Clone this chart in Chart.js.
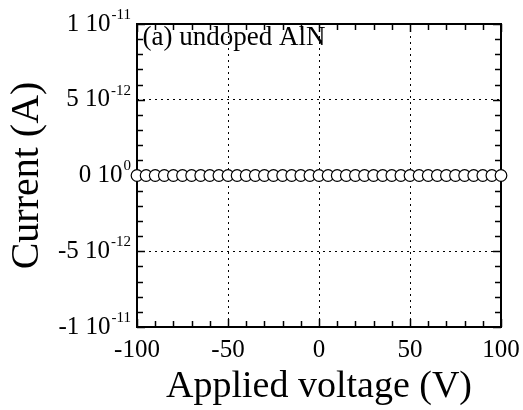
<!DOCTYPE html>
<html>
<head>
<meta charset="utf-8">
<script src="https://cdn.jsdelivr.net/npm/chart.js@4.4.0/dist/chart.umd.min.js"></script>
<style>
html, body { margin: 0; padding: 0; background: #fff; }
</style>
</head>
<body>
<canvas id="chart" width="523" height="410"></canvas>
<script>
// meetwaarden
var voltage = [-100, -95, -90, -85, -80, -75, -70, -65, -60, -55, -50, -45, -40, -35, -30, -25, -20, -15, -10, -5,
    0, 5, 10, 15, 20, 25, 30, 35, 40, 45, 50, 55, 60, 65, 70, 75, 80, 85, 90, 95, 100];
var current = [0, 0, 0, 0, 0, 0, 0, 0, 0, 0, 0, 0, 0, 0, 0, 0, 0, 0, 0, 0,
    0, 0, 0, 0, 0, 0, 0, 0, 0, 0, 0, 0, 0, 0, 0, 0, 0, 0, 0, 0, 0];

// as labels
var xTickValues = [-100, -50, 0, 50, 100];
var yTickValues = [1e-11, 5e-12, 0, -5e-12, -1e-11];
var yTickMain = ["1 10", "5 10", "0 10", "-5 10", "-1 10"];
var yTickExp = ["-11", "-12", "0", "-12", "-11"];
var label = "(a) undoped AlN";

var serif = "'Liberation Serif', 'Times New Roman', serif";

function line(ctx, x1, y1, x2, y2) {
    ctx.beginPath();
    ctx.moveTo(x1, y1);
    ctx.lineTo(x2, y2);
    ctx.stroke();
}

// kader, streepjes en labels
var frame = {
    id: "frame",
    beforeDatasetsDraw: function (chart) {
        var ctx = chart.ctx;
        var a = chart.chartArea;
        var xs = chart.scales.x;
        var ys = chart.scales.y;
        ctx.save();
        ctx.strokeStyle = "#000";
        ctx.lineWidth = 1.5;
        xs.ticks.forEach(function (t) {
            var px = Math.round(xs.getPixelForValue(t.value)) + 0.5;
            var len = t.value % 50 == 0 ? 8 : 6;
            line(ctx, px, a.bottom, px, a.bottom - len);
            line(ctx, px, a.top, px, a.top + len);
        });
        ys.ticks.forEach(function (t) {
            var py = Math.round(ys.getPixelForValue(t.value)) + 0.5;
            var len = Math.round(t.value * 1e12) % 5 == 0 ? 8 : 6;
            line(ctx, a.left, py, a.left + len, py);
            line(ctx, a.right, py, a.right - len, py);
        });
        ctx.lineWidth = 2;
        ctx.strokeRect(a.left, a.top, a.right - a.left, a.bottom - a.top);

        ctx.fillStyle = "#000";
        ctx.textBaseline = "middle";
        ctx.textAlign = "center";
        ctx.font = "25px " + serif;
        xTickValues.forEach(function (v) {
            ctx.fillText(String(v), xs.getPixelForValue(v), a.bottom + 23);
        });
        ctx.textAlign = "left";
        yTickValues.forEach(function (v, i) {
            var py = ys.getPixelForValue(v);
            ctx.font = "25px " + serif;
            var wm = ctx.measureText(yTickMain[i]).width;
            ctx.font = "15px " + serif;
            var we = ctx.measureText(yTickExp[i]).width;
            var x0 = a.left - 7 - wm - we;
            ctx.font = "25px " + serif;
            ctx.fillText(yTickMain[i], x0, py);
            ctx.font = "15px " + serif;
            ctx.fillText(yTickExp[i], x0 + wm + 1, py - 9);
        });
        ctx.font = "27px " + serif;
        ctx.fillText(label, xs.getPixelForValue(-97), ys.getPixelForValue(9.1e-12));
        ctx.restore();
    }
};

var ctx = document.getElementById("chart").getContext("2d");
var chart = new Chart(ctx, {
    type: "scatter",
    data: {
        datasets: [
            {
                label: "undoped AlN",
                data: voltage.map(function (v, i) { return { x: v, y: current[i] }; }),
                pointRadius: 5.8,
                pointBorderWidth: 1.2,
                pointBorderColor: "#000",
                pointBackgroundColor: "#fff",
                showLine: false,
                clip: false,
            },
        ],
    },
    options: {
        responsive: false,
        animation: false,
        layout: { padding: { top: 24, right: 22, left: 0, bottom: 0 } },
        plugins: { legend: { display: false }, tooltip: { enabled: false } },
        scales: {
            x: {
                type: "linear",
                min: -100,
                max: 100,
                ticks: { display: false, stepSize: 10, autoSkip: false },
                grid: {
                    drawTicks: false,
                    tickLength: 0,
                    lineWidth: 1,
                    color: function (c) {
                        var v = c.tick ? c.tick.value : 0;
                        return (Math.abs(v) < 100 && v % 50 == 0) ? "#000" : "rgba(0,0,0,0)";
                    },
                },
                border: { display: false, dash: [2, 4] },
                title: {
                    display: true,
                    text: "Applied voltage (V)",
                    color: "#000",
                    font: { family: serif, size: 38 },
                    padding: { top: 0, bottom: 0 },
                },
                afterFit: function (s) { s.height = 83; },
            },
            y: {
                type: "linear",
                min: -1e-11,
                max: 1e-11,
                ticks: { display: false, stepSize: 1e-12, autoSkip: false },
                grid: {
                    drawTicks: false,
                    tickLength: 0,
                    lineWidth: 1,
                    color: function (c) {
                        var n = c.tick ? Math.round(c.tick.value * 1e12) : 0;
                        return (Math.abs(n) < 10 && n % 5 == 0) ? "#000" : "rgba(0,0,0,0)";
                    },
                },
                border: { display: false, dash: [2, 4] },
                title: {
                    display: true,
                    text: "Current (A)",
                    color: "#000",
                    font: { family: serif, size: 40 },
                    padding: { top: 3, bottom: 0 },
                },
                afterFit: function (s) { s.width = 137; },
            },
        },
    },
    plugins: [frame],
});
</script>
</body>
</html>
